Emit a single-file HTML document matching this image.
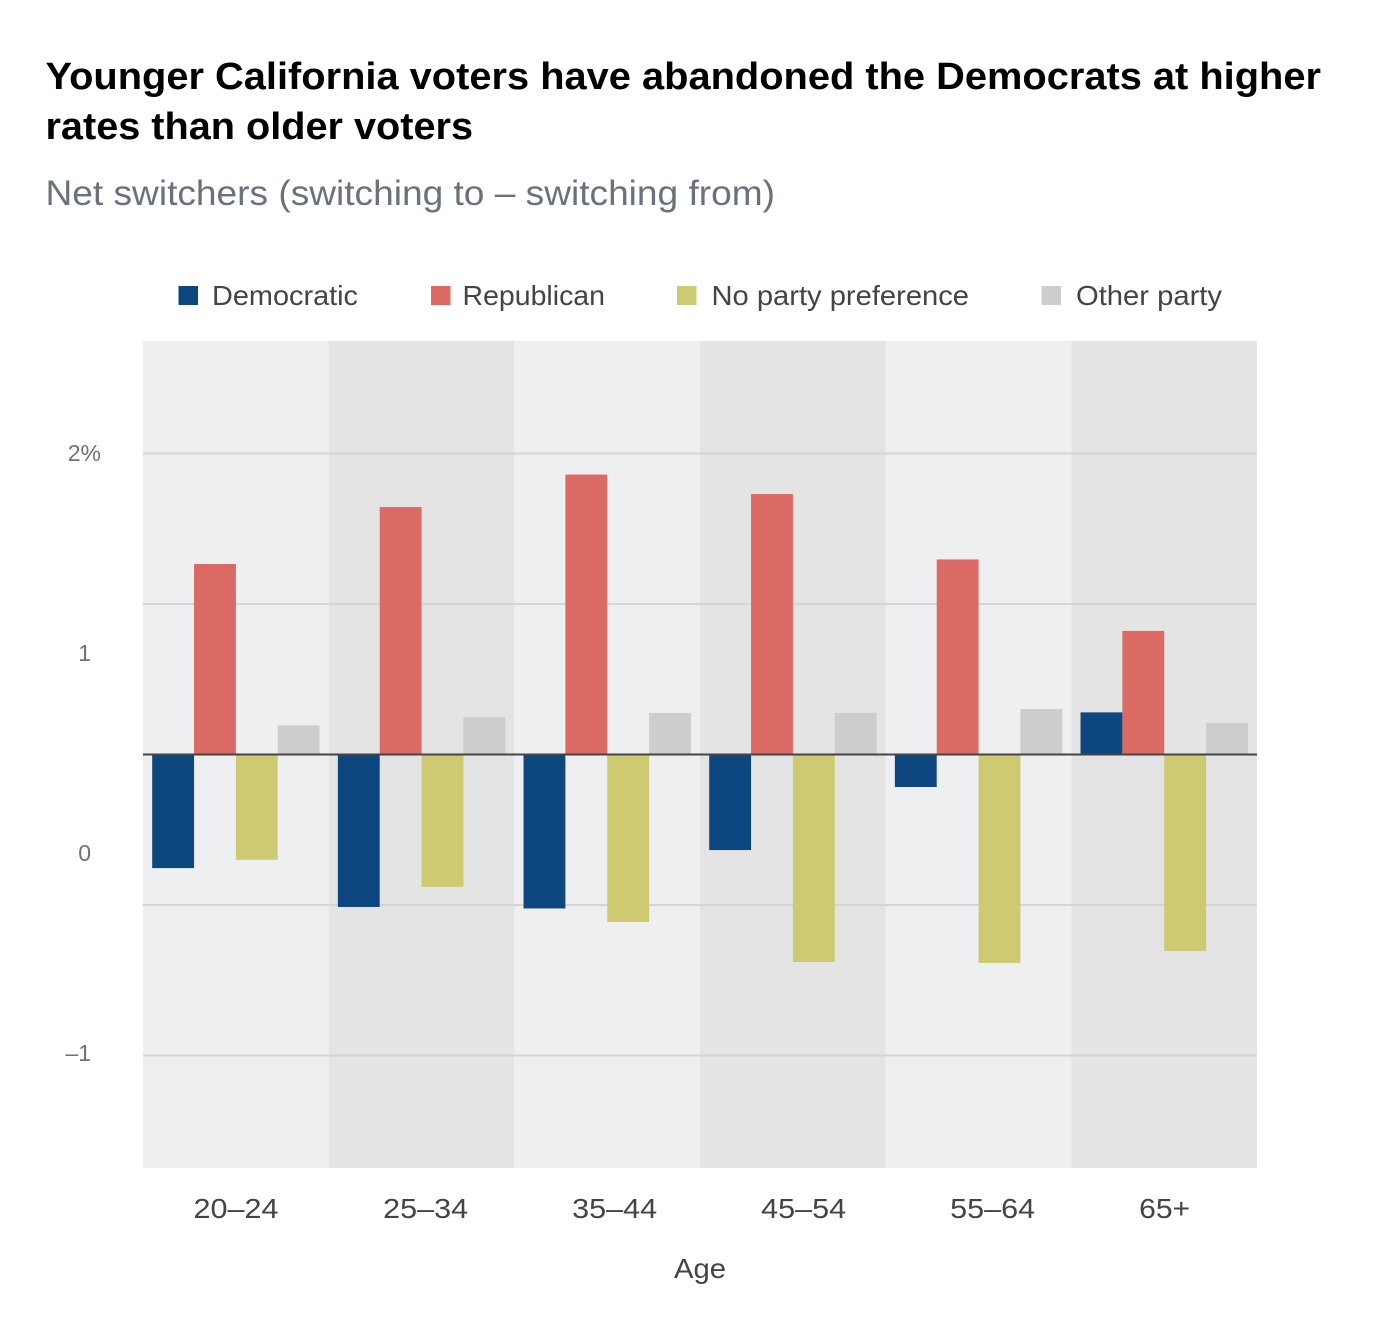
<!DOCTYPE html>
<html lang="en">
<head>
<meta charset="utf-8">
<title>Younger California voters chart</title>
<style>
html,body{margin:0;padding:0;background:#fff;}
body{width:1378px;height:1318px;overflow:hidden;}
svg{display:block;font-family:"Liberation Sans",sans-serif;}
</style>
</head>
<body>
<svg id="chart" width="1378" height="1318" viewBox="0 0 1378 1318" xmlns="http://www.w3.org/2000/svg">
  <rect x="0" y="0" width="1378" height="1318" fill="#ffffff"/>
  <text x="45.500" y="89" font-size="38" font-weight="700" fill="#000" textLength="1275.500" lengthAdjust="spacingAndGlyphs">Younger California voters have abandoned the Democrats at higher</text>
  <text x="45.500" y="139" font-size="38" font-weight="700" fill="#000" textLength="427.500" lengthAdjust="spacingAndGlyphs">rates than older voters</text>
  <text x="45.500" y="205" font-size="35" fill="#69727c" textLength="729.500" lengthAdjust="spacingAndGlyphs">Net switchers (switching to – switching from)</text>

  <g id="legend">
    <g>
      <rect x="178.500" y="286" width="19.500" height="19" fill="#0e4780"/>
      <text x="212" y="305" font-size="28" fill="#444" textLength="146" lengthAdjust="spacingAndGlyphs">Democratic</text>
    </g>
    <g>
      <rect x="431" y="286" width="19.500" height="19" fill="#db6a65"/>
      <text x="462.500" y="305" font-size="28" fill="#444" textLength="142.500" lengthAdjust="spacingAndGlyphs">Republican</text>
    </g>
    <g>
      <rect x="677" y="286" width="19.500" height="19" fill="#cdca72"/>
      <text x="711.500" y="305" font-size="28" fill="#444" textLength="257.500" lengthAdjust="spacingAndGlyphs">No party preference</text>
    </g>
    <g>
      <rect x="1041.500" y="286" width="19.500" height="19" fill="#cdcdcd"/>
      <text x="1076" y="305" font-size="28" fill="#444" textLength="146" lengthAdjust="spacingAndGlyphs">Other party</text>
    </g>
  </g>

  <g id="plot"></g>
  <text x="700" y="1278" font-size="28" fill="#444" text-anchor="middle" textLength="52" lengthAdjust="spacingAndGlyphs">Age</text>
</svg>

<script>
var categories = ['20–24', '25–34', '35–44', '45–54', '55–64', '65+'];
var democratic = [-0.755, -1.013, -1.023, -0.635, -0.216, 0.28];
var republican = [1.266, 1.644, 1.86, 1.731, 1.296, 0.821];
var noParty = [-0.70, -0.88, -1.113, -1.379, -1.385, -1.306];
var otherParty = [0.193, 0.249, 0.276, 0.276, 0.302, 0.209];
var gridValues = [2, 1, 0, -1, -2];
var tickValues = [2, 1, 0, -1];
var tickLabels = ['2%', '1', '0', '–1'];

var NS = 'http://www.w3.org/2000/svg';
var plot = document.getElementById('plot');
var plotLeft = 143, plotRight = 1257, plotTop = 341, plotBottom = 1168;
var bandWidth = (plotRight - plotLeft) / categories.length;
var barWidth = 41.85;
var barInset = 9.2;

function yScale(v) { return 754.5 - v * 150.5; }
function tickLabelY(v) { return 861 - v * 200; }
function xBand(i) { return plotLeft + i * bandWidth; }
function xBar(i, s) { return xBand(i) + barInset + s * barWidth; }
function labelWidth(label) { return label.length * 17; }
function xLabelCenter(i) {
  var total = 0, before = 0;
  for (var k = 0; k < categories.length; k++) {
    total += labelWidth(categories[k]);
    if (k < i) before += labelWidth(categories[k]);
  }
  var start = 193.5, end = 1189.5;
  var gap = (end - start - total) / (categories.length - 1);
  return start + before + gap * i + labelWidth(categories[i]) / 2 + (i > 0 ? 0.6 : 0);
}
function make(tag, attrs, parent) {
  var el = document.createElementNS(NS, tag);
  for (var key in attrs) el.setAttribute(key, attrs[key]);
  (parent || plot).appendChild(el);
  return el;
}

categories.forEach(function (cat, i) {
  var band = make('rect', {
    x: xBand(i), y: plotTop, width: bandWidth, height: plotBottom - plotTop,
    fill: i % 2 === 0 ? '#eeeff1' : '#e4e4e4'
  });
  
  
});

gridValues.forEach(function (v) {
  if (v === 0) return;
  var line = make('line', {
    x1: plotLeft, x2: plotRight, y1: yScale(v), y2: yScale(v),
    stroke: '#d4d5d7', 'stroke-width': 2
  });
  
  
});

var seriesList = [
  { key: 'democratic', values: democratic, color: '#0e4780' },
  { key: 'republican', values: republican, color: '#db6a65' },
  { key: 'no-party', values: noParty, color: '#cdca72' },
  { key: 'other-party', values: otherParty, color: '#cdcdcd' }
];

seriesList.forEach(function (series, s) {
  series.values.forEach(function (v, i) {
    var y0 = yScale(0), y1 = yScale(v);
    var bar = make('rect', {
      x: xBar(i, s), y: Math.min(y0, y1), width: barWidth,
      height: Math.abs(y1 - y0), fill: series.color
    });
    
    
  });
});

var zeroLine = make('line', {
  x1: plotLeft, x2: plotRight, y1: yScale(0), y2: yScale(0),
  stroke: '#444444', 'stroke-width': 2
});



tickValues.forEach(function (v, i) {
  var label = tickLabels[i];
  var hasPercent = label.indexOf('%') >= 0;
  var tick = make('text', {
    x: hasPercent ? 101 : 91, y: tickLabelY(v), 'text-anchor': 'end',
    'font-size': 23, fill: '#6f7377'
  });
  tick.textContent = label;
  
  
});

categories.forEach(function (cat, i) {
  var xt = make('text', {
    x: xLabelCenter(i), y: 1218, 'text-anchor': 'middle', 'font-size': 28,
    fill: '#444', textLength: labelWidth(cat), lengthAdjust: 'spacingAndGlyphs'
  });
  xt.textContent = cat;
  
  
});
</script>
</body>
</html>
